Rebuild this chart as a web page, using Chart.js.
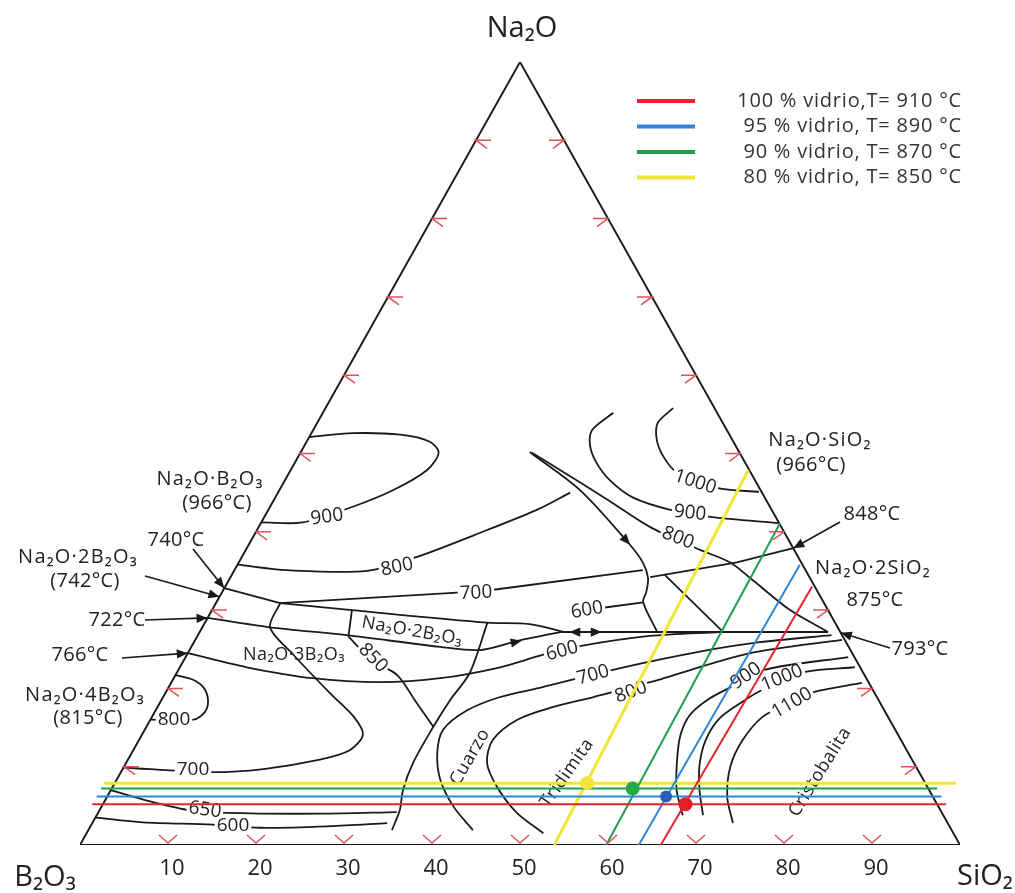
<!DOCTYPE html>
<html>
<head>
<meta charset="utf-8">
<script src="https://cdn.jsdelivr.net/npm/chart.js@4.4.1/dist/chart.umd.min.js"></script>
<style>
  html, body { margin: 0; padding: 0; background: #fff; }
  #wrap { width: 1015px; height: 893px; }
</style>
</head>
<body>
<div id="wrap"><canvas id="diagrama" width="1015" height="893"></canvas></div>
<script>
// Composiciones en % (pares [SiO2, Na2O]; B2O3 = resto)
const marcas = [10, 20, 30, 40, 50, 60, 70, 80, 90];

// Vidrios
const vidrioNombres = ['100 % vidrio,T= 910 °C', '95 % vidrio, T= 890 °C', '90 % vidrio, T= 870 °C', '80 % vidrio, T= 850 °C'];
const vidrioColores = ['#e3262e', '#2e86d4', '#1f9d4f', '#efe636'];
const puntoColores = ['#e01f26', '#2a5cb8', '#22a846', '#f1e33a'];
const vidrioNa2O = [5.2, 6.2, 7.2, 7.9];
const vidrioSiO2 = [66.2, 63.5, 59.2, 53.7];
const rectaSiO2Base = [66.0, 63.5, 59.8, 53.9];
const rectaSiO2Tope = [66.7, 63.9, 59.0, 52.0];
const rectaNa2OTope = [33.0, 35.8, 41.1, 47.9];

// Isotermas y limites de campo
const iso900a = [[0, 41.2], [4.7, 41.2], [9.4, 43.2], [12.9, 45.3], [15.5, 47.9], [15.7, 50.1], [14.0, 51.5], [10.2, 52.4], [4.7, 52.6], [0, 52.1]];
const iso800a = [[0, 35.8], [6.0, 35.1], [15.1, 35.0], [19.9, 36.8], [26.1, 40.2], [30.5, 42.8], [33.2, 45.0]];
const liq740 = [[0, 32.8], [7.3, 30.9]];
const iso700a = [[7.3, 30.9], [26.3, 32.2], [30.7, 32.6], [46.4, 35.1]];
const iso700b = [[47.7, 34.2], [56.6, 36.1], [62.1, 37.9]];
const limiteNaS = [[26.0, 50.2], [34.2, 45.3], [43.0, 38.6], [45.9, 36.1], [47.5, 34.1], [48.2, 32.3], [48.5, 31.0], [51.9, 27.3]];
const iso800b = [[26.3, 50.1], [30.6, 47.9], [37.9, 44.1], [44.5, 40.6], [51.6, 37.7], [55.8, 36.1], [59.1, 34.1], [65.7, 30.0], [71.4, 27.2]];
const iso900b = [[33.0, 55.2], [31.7, 53.0], [32.4, 51.1], [34.2, 48.9], [36.9, 46.6], [40.6, 44.4], [45.7, 42.8], [50.7, 41.9], [58.9, 41.1]];
const iso1000a = [[39.5, 55.8], [38.7, 53.9], [39.7, 51.7], [41.5, 49.6], [44.0, 47.6], [49.6, 45.6], [54.6, 45.1]];
const eutectica793 = [[41.0, 27.2], [71.4, 27.2]];
const limiteNS2 = [[49.2, 34.5], [59.5, 27.2]];
const iso600a = [[42.3, 29.5], [44.3, 30.3], [48.5, 31.0]];
const cajaSup = [[7.3, 30.9], [15.9, 30.0], [32.1, 28.4], [37.0, 28.2], [41.5, 27.2]];
const cajaIzq = [[15.9, 30.0], [17.2, 26.6]];
const liq722 = [[0, 29.0], [7.7, 27.8], [16.9, 26.8], [28.3, 25.3], [33.0, 24.9], [36.8, 26.1], [41.0, 27.2]];
const liq766 = [[0, 24.5], [7.6, 22.7], [15.8, 21.3], [23.7, 20.8], [30.3, 21.3], [36.4, 22.7], [40.5, 24.3], [44.1, 25.4], [51.4, 26.7], [59.1, 27.2]];
const iso700c = [[7.3, 30.9], [7.7, 27.8], [12.1, 24.3], [18.7, 19.4], [22.9, 16.4], [25.1, 14.1], [24.6, 12.1], [21.8, 10.9], [16.0, 9.7], [10.1, 9.3], [0, 9.9]];
const iso800c = [[0, 16.0], [4.9, 16.0], [5.7, 17.0], [5.3, 18.5], [4.0, 20.1], [2.3, 21.1], [0, 21.7]];
const iso650 = [[0, 7.0], [4.3, 5.8], [9.9, 4.5], [14.7, 4.1], [25.3, 4.0], [33.9, 4.2]];
const iso600b = [[0, 3.5], [5.7, 2.9], [13.8, 2.6], [19.4, 2.2], [27.2, 2.4], [33.5, 2.8]];
const limiteCuarzo = [[32.1, 28.4], [33.3, 22.0], [32.8, 18.5], [32.6, 15.1], [32.6, 10.5], [33.2, 7.0], [34.1, 4.5], [34.5, 1.9]];
const iso850 = [[17.2, 26.6], [21.4, 23.6], [25.2, 21.7], [28.8, 18.5], [32.6, 15.1]];
const iso700d = [[43.7, 1.9], [40.0, 4.9], [36.8, 8.3], [34.7, 11.8], [33.9, 14.7], [35.4, 17.2], [38.3, 18.9], [42.3, 20.1], [50.1, 22.6], [58.1, 24.7], [64.3, 25.9], [72.0, 26.8]];
const iso800d = [[51.9, 1.5], [47.6, 4.1], [43.7, 7.4], [41.0, 10.5], [40.2, 13.4], [41.7, 16.0], [44.9, 17.6], [48.9, 18.9], [54.4, 20.8], [63.9, 24.5], [73.5, 26.2]];
const iso900d = [[66.6, 3.8], [64.3, 7.0], [62.4, 10.9], [61.2, 14.1], [61.0, 16.6], [62.0, 18.5], [63.8, 20.1], [66.7, 22.4], [75.3, 24.0]];
const iso1000d = [[68.9, 3.8], [66.9, 7.0], [65.3, 10.2], [64.4, 13.4], [64.6, 16.2], [66.3, 18.5], [67.6, 19.8], [71.4, 22.1], [76.7, 22.7]];
const iso1100d = [[72.8, 2.8], [70.5, 6.1], [68.9, 10.0], [68.6, 13.4], [69.4, 16.4], [71.6, 18.1], [73.5, 19.5], [78.5, 20.7]];
const flechasDobles = [42.0, 45.7]; // SiO2 sobre la linea de 793 °C

// composicion -> coordenadas del triangulo
function xy(c) {
    return { x: c[0] + c[1] / 2, y: c[1] };
}

const FUENTE = '"Open Sans", "Noto Sans", "DejaVu Sans", sans-serif';
const NEGRO = '#1a1a1a';

function curva(puntos, suave) {
    return {
        data: puntos.map(xy),
        showLine: true,
        borderColor: NEGRO,
        borderWidth: 1.8,
        borderJoinStyle: 'round',
        pointRadius: 0,
        tension: suave ? 0.3 : 0,
        order: 3
    };
}

const datasets = [];
datasets.push(Object.assign(curva([[0, 0], [100, 0], [0, 100], [0, 0]], false), { borderWidth: 1.9 }));
[iso900a, iso800a, iso900b, iso1000a, iso800b, limiteNaS, iso700c, iso800c, iso650, iso600b,
 iso850, iso700d, iso800d, iso900d, iso1000d, iso1100d, liq722, liq766].forEach(c => datasets.push(curva(c, true)));
[liq740, iso700a, iso700b, eutectica793, limiteNS2, iso600a, cajaSup, cajaIzq, limiteCuarzo].forEach(c => datasets.push(curva(c, c === cajaSup || c === limiteCuarzo)));

// lineas de vidrio
vidrioNa2O.forEach((n, i) => {
    const ancho = i === 3 ? 3 : 2;
    datasets.push({
        capa: 'vidrio', data: [xy([-1.2, n]), xy([(i === 3 ? 103.5 : 101) - n, n])], showLine: true,
        borderColor: vidrioColores[i], borderWidth: ancho, pointRadius: 0, order: 2
    });
    datasets.push({
        capa: 'vidrio', data: [xy([rectaSiO2Base[i], 0]), xy([rectaSiO2Tope[i], rectaNa2OTope[i]])], showLine: true,
        borderColor: vidrioColores[i], borderWidth: ancho, pointRadius: 0, order: 2
    });
    datasets.push({
        capa: 'vidrio', data: [xy([vidrioSiO2[i], n])], showLine: false,
        pointRadius: i === 1 ? 6 : 7, pointStyle: 'circle', pointBackgroundColor: puntoColores[i],
        pointBorderWidth: 0, order: 1
    });
});

// rotulos de isotermas: texto, x, y, giro
const rotulosIso = [
    ['900', 327, 517, -8], ['800', 397, 567, -12], ['700', 476, 593, -3], ['600', 587, 610, -10],
    ['600', 562, 651, -15], ['700', 593, 675, -15], ['800', 631, 692, -20], ['900', 746, 676, -35],
    ['1000', 782, 678, -22], ['1100', 792, 703, -30], ['1000', 695, 482, 18], ['900', 690, 513, 6],
    ['800', 678, 538, 22], ['800', 174, 720, 0], ['700', 193, 770, 0], ['650', 205, 810, 8],
    ['600', 233, 826, 0], ['850', 373, 658, 45]
];
const rotulosCampo = [
    ['Na₂O·2B₂O₃', 412, 631, 10], ['Na₂O·3B₂O₃', 294, 655, 0], ['Cuarzo', 470, 757, -60],
    ['Tridimita', 567, 773, -55], ['Cristobalita', 820, 772, -58]
];
const rotulosFuera = [
    ['Na₂O·B₂O₃', 210, 479], ['(966°C)', 217, 503], ['740°C', 176, 540], ['Na₂O·2B₂O₃', 78, 557],
    ['(742°C)', 85, 581], ['722°C', 117, 620], ['766°C', 80, 655], ['Na₂O·4B₂O₃', 85, 695],
    ['(815°C)', 88, 718], ['Na₂O·SiO₂', 820, 440], ['(966°C)', 811, 465], ['848°C', 872, 514],
    ['Na₂O·2SiO₂', 873, 568], ['875°C', 875, 600], ['793°C', 920, 649]
];
// flechas de llamada: cola en pixeles, punta en composicion
const llamadas = [
    { cola: [193, 549], punta: [0, 32.8] },
    { cola: [145, 576], punta: [0, 31.7] },
    { cola: [145, 620], punta: [0, 29.0] },
    { cola: [122, 658], punta: [0, 24.5] },
    { cola: [840, 522], punta: [62.1, 37.9] },
    { cola: [890, 648], punta: [72.9, 27.1] }
];

function dibujarTexto(ctx, s, x, y, tam, rot, fondo, espacio) {
    ctx.save();
    ctx.translate(x, y);
    if (rot) ctx.rotate(rot * Math.PI / 180);
    ctx.font = tam + 'px ' + FUENTE;
    if (espacio) ctx.letterSpacing = espacio + 'px';
    ctx.textAlign = 'center';
    ctx.textBaseline = 'middle';
    if (fondo) {
        const w = ctx.measureText(s).width;
        ctx.fillStyle = '#fff';
        ctx.fillRect(-w / 2 - 2, -tam * 0.42, w + 4, tam * 0.84);
    }
    ctx.fillStyle = '#222';
    ctx.fillText(s, 0, 0);
    ctx.restore();
}

function punta(ctx, x, y, ang, t) {
    ctx.save();
    ctx.translate(x, y);
    ctx.rotate(ang);
    ctx.beginPath();
    ctx.moveTo(0, 0);
    ctx.lineTo(-t, -t * 0.42);
    ctx.lineTo(-t, t * 0.42);
    ctx.closePath();
    ctx.fill();
    ctx.restore();
}

function pix(chart, c) {
    const p = xy(c);
    return [chart.scales.x.getPixelForValue(p.x), chart.scales.y.getPixelForValue(p.y)];
}

const anotaciones = {
    id: 'anotaciones',
    beforeDatasetsDraw(chart) {
        chart.$rotulos = false;
    },
    beforeDatasetDraw(chart, args) {
        const ds = chart.data.datasets[args.index];
        if (ds.capa === 'vidrio' && !chart.$rotulos) {
            chart.$rotulos = true;
            const ctx = chart.ctx;
            rotulosIso.forEach(r => dibujarTexto(ctx, r[0], r[1], r[2], 19, r[3], true));
            rotulosCampo.forEach(r => dibujarTexto(ctx, r[0], r[1], r[2], 18, r[3], false, 0.5));
            // flechas sobre las curvas
            ctx.fillStyle = NEGRO;
            const a1 = pix(chart, limiteNaS[1]), a2 = pix(chart, limiteNaS[2]);
            punta(ctx, a2[0] + 2, a2[1] + 2, Math.atan2(a2[1] - a1[1], a2[0] - a1[0]), 11);
            const b1 = pix(chart, liq722[4]), b2 = pix(chart, liq722[5]), b3 = pix(chart, liq722[6]);
            punta(ctx, b2[0] + 3, b2[1], Math.atan2(b3[1] - b1[1], b3[0] - b1[0]), 11);
            const d1 = pix(chart, [flechasDobles[0], eutectica793[0][1]]);
            const d2 = pix(chart, [flechasDobles[1], eutectica793[0][1]]);
            punta(ctx, d1[0], d1[1], Math.PI, 11);
            punta(ctx, d2[0], d2[1], 0, 11);
        }
    },
    afterDatasetsDraw(chart) {
        const ctx = chart.ctx;
        const sx = chart.scales.x, sy = chart.scales.y;
        // marcas rojas en los lados
        ctx.save();
        ctx.strokeStyle = '#e2505a';
        ctx.lineWidth = 1.5;
        marcas.forEach(v => {
            let p = pix(chart, [v, 0]);
            ctx.beginPath();
            ctx.moveTo(p[0] - 9, p[1] - 10);
            ctx.lineTo(p[0], p[1] - 2);
            ctx.lineTo(p[0] + 9, p[1] - 10);
            ctx.stroke();
            p = pix(chart, [0, v]);
            ctx.beginPath();
            ctx.moveTo(p[0] + 15, p[1]);
            ctx.lineTo(p[0], p[1]);
            ctx.lineTo(p[0] + 11, p[1] + 8);
            ctx.stroke();
            p = pix(chart, [100 - v, v]);
            ctx.beginPath();
            ctx.moveTo(p[0] - 15, p[1]);
            ctx.lineTo(p[0], p[1]);
            ctx.lineTo(p[0] - 11, p[1] + 8);
            ctx.stroke();
        });
        ctx.restore();

        // numeros del eje inferior
        marcas.forEach(v => dibujarTexto(ctx, String(v), sx.getPixelForValue(v) + 4, sy.getPixelForValue(0) + 24, 22, 0, false));

        // vertices
        const a = pix(chart, [0, 100]), b = pix(chart, [0, 0]), s = pix(chart, [100, 0]);
        dibujarTexto(ctx, 'Na₂O', a[0] + 2, a[1] - 33, 29, 0, false);
        dibujarTexto(ctx, 'B₂O₃', b[0] - 35, b[1] + 33, 29, 0, false);
        dibujarTexto(ctx, 'SiO₂', s[0] + 25, s[1] + 32, 29, 0, false);

        // rotulos exteriores y llamadas
        rotulosFuera.forEach(r => dibujarTexto(ctx, r[0], r[1], r[2], 20, 0, false, r[0].indexOf('₂') >= 0 ? 1.2 : 0.3));
        ctx.save();
        ctx.strokeStyle = NEGRO;
        ctx.fillStyle = NEGRO;
        ctx.lineWidth = 1.7;
        llamadas.forEach(l => {
            const t = pix(chart, l.punta);
            ctx.beginPath();
            ctx.moveTo(l.cola[0], l.cola[1]);
            ctx.lineTo(t[0], t[1]);
            ctx.stroke();
            punta(ctx, t[0], t[1], Math.atan2(t[1] - l.cola[1], t[0] - l.cola[0]), 11);
        });
        ctx.restore();

        // leyenda
        ctx.save();
        vidrioNombres.forEach((nombre, i) => {
            const y = 101 + i * 25.5;
            ctx.strokeStyle = vidrioColores[i];
            ctx.lineWidth = 4;
            ctx.beginPath();
            ctx.moveTo(637, y);
            ctx.lineTo(695, y);
            ctx.stroke();
            ctx.font = '20px ' + FUENTE;
            ctx.letterSpacing = '0.8px';
            ctx.textAlign = 'right';
            ctx.textBaseline = 'middle';
            ctx.fillStyle = '#333';
            ctx.fillText(nombre, 962, y);
        });
        ctx.restore();
    }
};

const ctx = document.getElementById('diagrama').getContext('2d');
new Chart(ctx, {
    type: 'scatter',
    data: { datasets: datasets },
    options: {
        responsive: false,
        animation: false,
        layout: { padding: { left: 80, right: 55, top: 62, bottom: 48 } },
        scales: {
            x: { type: 'linear', min: 0, max: 100, display: false },
            y: { type: 'linear', min: 0, max: 100, display: false }
        },
        plugins: {
            legend: { display: false },
            tooltip: { enabled: false }
        }
    },
    plugins: [anotaciones]
});
</script>
</body>
</html>
